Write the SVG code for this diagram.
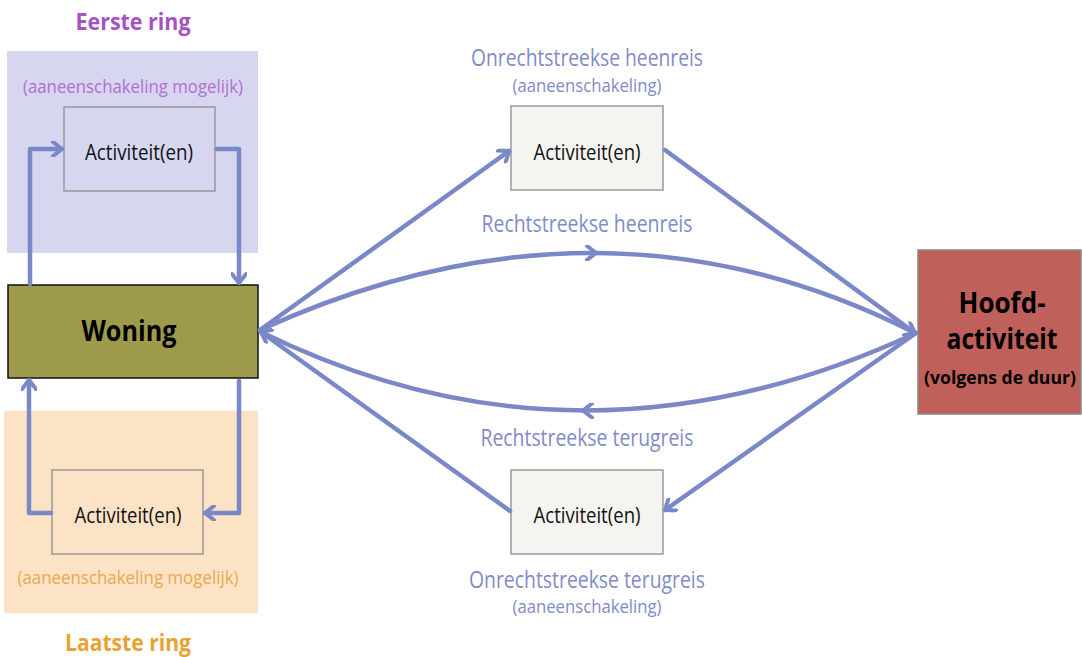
<svg xmlns="http://www.w3.org/2000/svg" width="1082" height="657" viewBox="0 0 1082 657">
<style>
text{font-family:"Open Sans","Noto Sans","Liberation Sans",sans-serif;text-anchor:middle}
.act{font-size:21px;fill:#111}
.lbl{font-size:23px;fill:#7f8cc8}
.sub{font-size:18px;fill:#7f8cc8}
.box{stroke:#999;stroke-width:1.5}
.cn{fill:none;stroke:#7b88c8;stroke-width:4.5;stroke-linecap:round;stroke-linejoin:round}
</style>
<defs>
<marker id="ah" viewBox="0 0 16 16" refX="14" refY="8" markerWidth="16" markerHeight="16" markerUnits="userSpaceOnUse" orient="auto">
<path d="M5,1 L14,8 L5,15" fill="none" stroke="#7b88c8" stroke-width="4" stroke-linecap="round" stroke-linejoin="round"/>
</marker>
</defs>
<g id="ring1">
<rect x="7" y="51" width="251" height="202" fill="#d6d6f1"/>
<text x="133" y="30" style="font-size:24px;font-weight:bold;fill:#a552c4" textLength="115" lengthAdjust="spacingAndGlyphs">Eerste ring</text>
<text x="133" y="93" style="font-size:19px;fill:#b26fd0" textLength="220" lengthAdjust="spacingAndGlyphs">(aaneenschakeling mogelijk)</text>
</g>
<g id="act1">
<rect class="box" x="64" y="107" width="151" height="84" fill="#d6d6f1"/>
<text class="act" x="139" y="160" textLength="108" lengthAdjust="spacingAndGlyphs">Activiteit(en)</text>
</g>
<g id="ring2">
<rect x="4" y="411" width="254" height="202" fill="#fce3c6"/>
<text x="128" y="584" style="font-size:19px;fill:#eaa94c" textLength="221" lengthAdjust="spacingAndGlyphs">(aaneenschakeling mogelijk)</text>
<text x="128" y="651" style="font-size:24px;font-weight:bold;fill:#e9a232" textLength="126" lengthAdjust="spacingAndGlyphs">Laatste ring</text>
</g>
<g id="act2">
<rect class="box" x="52" y="470" width="151" height="84" fill="#fce3c6"/>
<text class="act" x="128" y="523" textLength="107" lengthAdjust="spacingAndGlyphs">Activiteit(en)</text>
</g>
<g id="woning">
<rect x="8" y="285" width="250" height="93" fill="#9e9a4b" stroke="#111" stroke-width="1.5"/>
<text x="129" y="341" style="font-size:28px;font-weight:bold;fill:#000" textLength="95" lengthAdjust="spacingAndGlyphs">Woning</text>
</g>
<g id="heen">
<text class="lbl" x="587" y="66" textLength="232" lengthAdjust="spacingAndGlyphs">Onrechtstreekse heenreis</text>
<text class="sub" x="587" y="92" textLength="149" lengthAdjust="spacingAndGlyphs">(aaneenschakeling)</text>
<rect class="box" x="511" y="106" width="152" height="84" fill="#f5f4f1"/>
<text class="act" x="587" y="160" textLength="107" lengthAdjust="spacingAndGlyphs">Activiteit(en)</text>
</g>
<g id="terug">
<rect class="box" x="511" y="470" width="152" height="84" fill="#f5f4f1"/>
<text class="act" x="587" y="523" textLength="107" lengthAdjust="spacingAndGlyphs">Activiteit(en)</text>
<text class="lbl" x="587" y="588" textLength="236" lengthAdjust="spacingAndGlyphs">Onrechtstreekse terugreis</text>
<text class="sub" x="587" y="613" textLength="149" lengthAdjust="spacingAndGlyphs">(aaneenschakeling)</text>
</g>
<g id="labels">
<text class="lbl" x="587" y="232" textLength="211" lengthAdjust="spacingAndGlyphs">Rechtstreekse heenreis</text>
<text class="lbl" x="587" y="446" textLength="213" lengthAdjust="spacingAndGlyphs">Rechtstreekse terugreis</text>
</g>
<g id="hoofd">
<rect x="918" y="250" width="163" height="164" fill="#c0605a" stroke="#888" stroke-width="1.5"/>
<text x="1002" y="313" style="font-size:29px;font-weight:bold;fill:#000" textLength="87" lengthAdjust="spacingAndGlyphs">Hoofd-</text>
<text x="1002" y="349" style="font-size:29px;font-weight:bold;fill:#000" textLength="111" lengthAdjust="spacingAndGlyphs">activiteit</text>
<text x="1000" y="384" style="font-size:17px;font-weight:bold;fill:#000" textLength="152" lengthAdjust="spacingAndGlyphs">(volgens de duur)</text>
</g>
<g id="connectors">
<polyline class="cn" points="30,284 30,149 62,149" marker-end="url(#ah)"/>
<polyline class="cn" points="217,149 239,149 239,283" marker-end="url(#ah)"/>
<polyline class="cn" points="239,381 239,513 205,513" marker-end="url(#ah)"/>
<polyline class="cn" points="51,513 29,513 29,380" marker-end="url(#ah)"/>
<line class="cn" x1="260" y1="330" x2="509" y2="151" marker-end="url(#ah)"/>
<path class="cn" d="M260,330 Q430.5,252.25 596,253" marker-end="url(#ah)"/>
<path class="cn" d="M594.75,253 Q759,253.75 915,333" marker-end="url(#ah)"/>
<line class="cn" x1="665" y1="150" x2="915" y2="333"/>
<path class="cn" d="M916,333 Q749,410.75 583,410.5" marker-end="url(#ah)"/>
<path class="cn" d="M584.75,410.5 Q420.5,410.25 261,332" marker-end="url(#ah)"/>
<line class="cn" x1="916" y1="333" x2="665" y2="510" marker-end="url(#ah)"/>
<line class="cn" x1="510" y1="511" x2="261" y2="332"/>
</g>
</svg>
